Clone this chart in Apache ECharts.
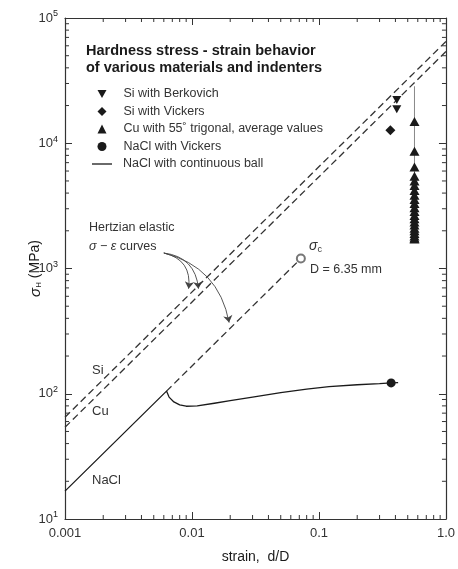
<!DOCTYPE html>
<html>
<head>
<meta charset="utf-8">
<title>Hardness stress - strain behavior</title>
<script src="https://cdn.jsdelivr.net/npm/echarts@6/dist/echarts.min.js"></script>
<style>
    html, body { margin: 0; padding: 0; background: #fff; }
    #chartmain { width: 458px; height: 569px; }
</style>
</head>
<body>
<div id="chartmain"></div>
<script type="text/javascript">
    // tick labels
    var xTickLabels = ['0.001', '0.01', '0.1', '1.0'];
    var yTickExps = ['1', '2', '3', '4', '5'];

    // measured points: [strain d/D, sigma_H MPa]
    var siBerkovich = [[0.41, 22100], [0.41, 18700]];
    var siVickers = [[0.365, 12700]];
    var cuTrigonal = [
        [0.565, 14900], [0.565, 8650], [0.565, 6450], [0.565, 5450], [0.565, 5000],
        [0.565, 4600], [0.565, 4200], [0.565, 3850], [0.565, 3550], [0.565, 3300],
        [0.565, 3050], [0.565, 2850], [0.565, 2650], [0.565, 2500], [0.565, 2350],
        [0.565, 2220], [0.565, 2100], [0.565, 2000], [0.565, 1900], [0.565, 1820],
        [0.565, 1750], [0.565, 1720]
    ];
    var cuRange = [[0.565, 28500], [0.565, 1680]];
    var naclVickers = [[0.37, 122]];
    var naclBall = [
        [0.001, 16.7], [0.0063, 105], [0.0066, 94], [0.0072, 86], [0.008, 81.5],
        [0.009, 79.5], [0.011, 80], [0.015, 84], [0.02, 88], [0.03, 94],
        [0.05, 102], [0.08, 109], [0.12, 114], [0.2, 118], [0.3, 120.5],
        [0.37, 122], [0.42, 122.5]
    ];

    // Hertzian elastic curves
    var siElastic = [[0.001, 65], [1, 65000]];
    var cuElastic = [[0.001, 54], [1, 54000]];
    var naclElastic = [[0.0063, 105], [0.072, 1200]];
    var naclCritical = [[0.072, 1200]];

    // annotation arrows (from text to curves)
    var hertzArrows = [
        [[0.006, 1330], [0.0094, 690]],
        [[0.006, 1330], [0.01125, 690]],
        [[0.006, 1330], [0.0196, 370]]
    ];
    var arrowBend = [0.45, 0.4, 0.32];

    // minor tick positions
    var minorSteps = [2, 3, 4, 5, 6, 7, 8, 9];
    var xDecades = [0.001, 0.01, 0.1];
    var yDecades = [10, 100, 1000, 10000];
    var xMinor = [], yMinor = [];
    xDecades.forEach(function (d) { minorSteps.forEach(function (k) { xMinor.push([k * d, 10]); }); });
    yDecades.forEach(function (d) { minorSteps.forEach(function (k) { yMinor.push([0.001, k * d]); }); });

    var ink = '#1a1a1a';
    var font = '"Liberation Sans", Arial, sans-serif';

    function expOf(v) { return Math.round(Math.log(v) / Math.LN10); }

    function tickRender(isX) {
        return function (params, api) {
            var v = isX ? api.value(0) : api.value(1);
            var a, b, len = 4;
            var st = { stroke: '#333', lineWidth: 1 };
            if (isX) {
                a = api.coord([v, 10]); b = api.coord([v, 100000]);
                return { type: 'group', children: [
                    { type: 'line', shape: { x1: a[0], y1: a[1], x2: a[0], y2: a[1] - len }, style: st },
                    { type: 'line', shape: { x1: b[0], y1: b[1], x2: b[0], y2: b[1] + len }, style: st }
                ]};
            }
            a = api.coord([0.001, v]); b = api.coord([1, v]);
            return { type: 'group', children: [
                { type: 'line', shape: { x1: a[0], y1: a[1], x2: a[0] + len, y2: a[1] }, style: st },
                { type: 'line', shape: { x1: b[0], y1: b[1], x2: b[0] - len, y2: b[1] }, style: st }
            ]};
        };
    }

    var axisCommon = {
        type: 'log', logBase: 10,
        axisLine: { lineStyle: { color: '#333', width: 1.2 } },
        axisTick: { inside: true, length: 7, lineStyle: { color: '#333' } },
        splitLine: { show: false },
        minorTick: { show: false }
    };

    var legendText = { fontFamily: font, fontSize: 12.5, color: '#333', lineHeight: 14 };

    var myChart = echarts.init(document.getElementById('chartmain'));
    myChart.setOption({
        animation: false,
        backgroundColor: '#fff',
        textStyle: { fontFamily: font, color: ink },
        title: {
            text: 'Hardness stress - strain behavior\nof various materials and indenters',
            left: 86, top: 42, padding: 0,
            textStyle: { fontFamily: font, fontSize: 14.5, fontWeight: 'bold', color: ink, lineHeight: 17 }
        },
        legend: [
            {
                orient: 'vertical', left: 97.5, top: 87, padding: 0,
                itemWidth: 9, itemHeight: 9, itemGap: 3.5,
                textStyle: Object.assign({ padding: [0, 0, 0, 12] }, legendText),
                data: ['Si with Berkovich', 'Si with Vickers', 'Cu with 55˚ trigonal, average values', 'NaCl with Vickers']
            },
            {
                orient: 'vertical', left: 92, top: 157, padding: 0,
                itemWidth: 20, itemHeight: 1.3,
                textStyle: Object.assign({ padding: [0, 0, 0, 6] }, legendText),
                data: [{ name: 'NaCl with continuous ball', icon: 'rect' }]
            }
        ],
        grid: { left: 65, right: 8, top: 18, bottom: 46, containLabel: false },
        xAxis: [
            Object.assign({}, axisCommon, {
                min: 0.001, max: 1, position: 'bottom',
                name: 'strain,  d/D', nameLocation: 'middle', nameGap: 31, nameMoveOverlap: false,
                nameTextStyle: { fontFamily: font, fontSize: 14, color: ink },
                axisLabel: {
                    fontSize: 13, color: '#333', margin: 8,
                    formatter: function (v) { return xTickLabels[expOf(v) + 3]; }
                }
            }),
            Object.assign({}, axisCommon, { min: 0.001, max: 1, position: 'top', axisLabel: { show: false } })
        ],
        yAxis: [
            Object.assign({}, axisCommon, {
                min: 10, max: 100000, position: 'left',
                name: '{i|σ}{s|H} (MPa)', nameLocation: 'middle', nameGap: 22, nameRotate: 90, nameMoveOverlap: false,
                nameTextStyle: {
                    fontFamily: font, fontSize: 14, color: ink,
                    rich: {
                        i: { fontSize: 15, fontStyle: 'italic', fontFamily: font },
                        s: { fontSize: 8, padding: [7, 0, 0, 0], fontFamily: font }
                    }
                },
                axisLabel: {
                    margin: 7, color: '#333', fontSize: 13,
                    formatter: function (v) { return '10{s|' + yTickExps[expOf(v) - 1] + '}'; },
                    rich: { s: { fontSize: 9, padding: [0, 0, 8, 0] } }
                }
            }),
            Object.assign({}, axisCommon, { min: 10, max: 100000, position: 'right', axisLabel: { show: false } })
        ],
        series: [
            { type: 'custom', silent: true, data: xMinor, renderItem: tickRender(true), z: 1 },
            { type: 'custom', silent: true, data: yMinor, renderItem: tickRender(false), z: 1 },
            {
                name: 'Si elastic', type: 'line', data: siElastic, symbol: 'none', silent: true,
                lineStyle: { color: '#333', width: 1.3, type: [7, 4] }
            },
            {
                name: 'Cu elastic', type: 'line', data: cuElastic, symbol: 'none', silent: true,
                lineStyle: { color: '#333', width: 1.3, type: [7, 4] }
            },
            {
                name: 'NaCl elastic', type: 'line', data: naclElastic, symbol: 'none', silent: true,
                lineStyle: { color: '#333', width: 1.3, type: [7, 4] }
            },
            {
                name: 'Cu range', type: 'line', data: cuRange, symbol: 'none', silent: true,
                lineStyle: { color: '#888', width: 1 }, z: 2
            },
            {
                name: 'NaCl with continuous ball', type: 'line', data: naclBall, symbol: 'none',
                lineStyle: { color: ink, width: 1.3 }, itemStyle: { color: ink }
            },
            {
                name: 'Si with Berkovich', type: 'scatter', data: siBerkovich,
                symbol: 'path://M0,0L10,0L5,9Z', symbolSize: [9, 8],
                itemStyle: { color: ink, opacity: 1 }, z: 4
            },
            {
                name: 'Si with Vickers', type: 'scatter', data: siVickers,
                symbol: 'diamond', symbolSize: [10, 10],
                itemStyle: { color: ink, opacity: 1 }, z: 4
            },
            {
                name: 'Cu with 55˚ trigonal, average values', type: 'scatter', data: cuTrigonal,
                symbol: 'triangle', symbolSize: [10, 9],
                itemStyle: { color: ink, opacity: 1 }, z: 4
            },
            {
                name: 'NaCl with Vickers', type: 'scatter', data: naclVickers,
                symbol: 'circle', symbolSize: 9,
                itemStyle: { color: ink, opacity: 1 }, z: 4
            },
            {
                name: 'sigma c', type: 'scatter', data: naclCritical, silent: true,
                symbol: 'emptyCircle', symbolSize: 8,
                itemStyle: { color: '#777', borderColor: '#777', borderWidth: 1, opacity: 1 }, z: 4
            },
            {
                type: 'lines', coordinateSystem: 'cartesian2d', silent: true,
                symbol: ['none', 'arrow'], symbolSize: 7,
                data: hertzArrows.map(function (c, i) {
                    return { coords: c, lineStyle: { curveness: arrowBend[i] } };
                }),
                lineStyle: { color: '#444', width: 0.9, opacity: 1 }, z: 3
            }
        ],
        graphic: [
            { type: 'text', left: 89, top: 221, style: { text: 'Hertzian elastic', font: '12.5px ' + font, fill: '#333' } },
            {
                type: 'text', left: 89, top: 240,
                style: {
                    text: '{i|σ − ε} curves', font: '12.5px ' + font, fill: '#333',
                    rich: { i: { fontStyle: 'italic', fontSize: 12.5, fontFamily: font } }
                }
            },
            { type: 'text', left: 92, top: 364, style: { text: 'Si', font: '13px ' + font, fill: '#333' } },
            { type: 'text', left: 92, top: 405, style: { text: 'Cu', font: '13px ' + font, fill: '#333' } },
            { type: 'text', left: 92, top: 474, style: { text: 'NaCl', font: '13px ' + font, fill: '#333' } },
            {
                type: 'text', left: 309, top: 239,
                style: {
                    text: '{i|σ}{s|c}', font: '13px ' + font, fill: '#333',
                    rich: { i: { fontStyle: 'italic', fontSize: 14, fontFamily: font }, s: { fontSize: 9, padding: [7, 0, 0, 0] } }
                }
            },
            { type: 'text', left: 310, top: 263, style: { text: 'D = 6.35 mm', font: '12.5px ' + font, fill: '#333' } }
        ]
    });
</script>
</body>
</html>
